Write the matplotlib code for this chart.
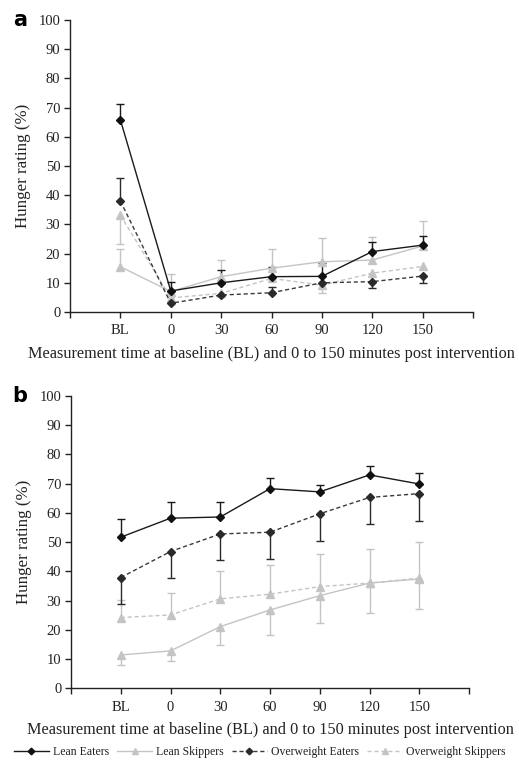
import numpy as np
import matplotlib
matplotlib.use("Agg")
import matplotlib.pyplot as plt
from matplotlib.lines import Line2D

plt.rcParams['font.family'] = ['Liberation Serif', 'DejaVu Serif']

categories = ["BL", "0", "30", "60", "90", "120", "150"]
series_names = ["Lean Eaters", "Lean Skippers", "Overweight Eaters", "Overweight Skippers"]

# Panel a values (%)
lean_eaters_a = [65.8, 7.2, 10.0, 12.1, 12.2, 20.7, 22.9]
lean_eaters_a_lo = [0, 0, 0, 0, 0, 0, 0]
lean_eaters_a_hi = [5.4, 3.2, 4.4, 3.4, 4.5, 3.4, 3.0]
lean_skippers_a = [15.5, 7.0, 12.1, 15.0, 17.2, 17.8, 22.6]
lean_skippers_a_lo = [0, 0, 0, 0, 0, 0, 0]
lean_skippers_a_hi = [6.1, 5.9, 5.7, 6.6, 8.0, 7.8, 8.4]
ow_eaters_a = [38.0, 3.0, 5.8, 6.6, 10.0, 10.4, 12.3]
ow_eaters_a_lo = [0, 0, 0, 0, 0, 2.3, 2.4]
ow_eaters_a_hi = [8.0, 0, 0, 2.1, 0, 0, 0]
ow_skippers_a = [33.2, 4.8, 6.4, 11.5, 9.2, 13.3, 15.6]
ow_skippers_a_lo = [10.0, 0, 0, 0, 2.8, 0, 0]
ow_skippers_a_hi = [0, 0, 0, 0, 0, 0, 0]

# Panel b values (%)
lean_eaters_b = [51.7, 58.2, 58.6, 68.3, 67.2, 73.0, 69.9]
lean_eaters_b_lo = [0, 0, 0, 0, 0, 0, 0]
lean_eaters_b_hi = [6.3, 5.4, 5.0, 3.6, 2.4, 3.2, 3.9]
lean_skippers_b = [11.4, 12.8, 21.1, 26.8, 31.7, 36.0, 37.4]
lean_skippers_b_lo = [3.4, 3.3, 6.3, 8.5, 9.5, 10.3, 10.4]
lean_skippers_b_hi = [0, 0, 0, 0, 0, 0, 0]
ow_eaters_b = [37.9, 46.8, 52.8, 53.4, 59.7, 65.3, 66.6]
ow_eaters_b_lo = [9.0, 8.9, 8.9, 9.1, 9.2, 9.1, 9.2]
ow_eaters_b_hi = [0, 0, 0, 0, 0, 0, 0]
ow_skippers_b = [24.2, 25.1, 30.6, 32.2, 34.8, 36.0, 37.7]
ow_skippers_b_lo = [0, 0, 0, 0, 0, 0, 0]
ow_skippers_b_hi = [6.0, 7.6, 9.7, 10.0, 11.1, 11.6, 12.5]

styles = {
    "Lean Eaters": dict(color="#1a1a1a", ls="-", marker="D", ms=4.5, mfc="#111111", mec="#111111", ecolor="#1a1a1a"),
    "Lean Skippers": dict(color="#c4c4c4", ls="-", marker="^", ms=6, mfc="#c4c4c4", mec="#c4c4c4", ecolor="#c4c4c4"),
    "Overweight Eaters": dict(color="#3a3a3a", ls=(0, (3, 2)), marker="D", ms=4.5, mfc="#2a2a2a", mec="#2a2a2a", ecolor="#2a2a2a"),
    "Overweight Skippers": dict(color="#c4c4c4", ls=(0, (3, 2)), marker="^", ms=6, mfc="#c4c4c4", mec="#c4c4c4", ecolor="#c4c4c4"),
}

panel_a = {
    "Lean Eaters": (lean_eaters_a, lean_eaters_a_lo, lean_eaters_a_hi),
    "Lean Skippers": (lean_skippers_a, lean_skippers_a_lo, lean_skippers_a_hi),
    "Overweight Eaters": (ow_eaters_a, ow_eaters_a_lo, ow_eaters_a_hi),
    "Overweight Skippers": (ow_skippers_a, ow_skippers_a_lo, ow_skippers_a_hi),
}
panel_b = {
    "Lean Eaters": (lean_eaters_b, lean_eaters_b_lo, lean_eaters_b_hi),
    "Lean Skippers": (lean_skippers_b, lean_skippers_b_lo, lean_skippers_b_hi),
    "Overweight Eaters": (ow_eaters_b, ow_eaters_b_lo, ow_eaters_b_hi),
    "Overweight Skippers": (ow_skippers_b, ow_skippers_b_lo, ow_skippers_b_hi),
}

fig = plt.figure(figsize=(5.19, 7.65), dpi=100)
ax_a = fig.add_axes([70/519, 1 - 312/765, 403/519, 292/765])
ax_b = fig.add_axes([71/519, 1 - 688.3/765, 398/519, 292.3/765])

x = np.arange(1, len(categories) + 1)
xlabel = "Measurement time at baseline (BL) and 0 to 150 minutes post intervention"


def draw(ax, data, order):
    for name in order:
        vals, lo, hi = data[name]
        st = styles[name]
        vals = np.array(vals, float)
        lo = np.array(lo, float)
        hi = np.array(hi, float)
        eb = ax.errorbar(x, vals, yerr=[lo, hi], fmt="none", ecolor=st["ecolor"],
                         elinewidth=1.0, capsize=2.6, capthick=1.0, zorder=2)
        for cl in eb[1]:
            yd = np.array(cl.get_ydata(), float)
            yd[np.isclose(yd, vals)] = np.nan
            cl.set_ydata(yd)
        ax.plot(x, vals, color=st["color"], ls=st["ls"], lw=1.0, marker=st["marker"],
                ms=st["ms"], mfc=st["mfc"], mec=st["mec"], zorder=3)
    ax.set_xlim(0, 8)
    ax.set_ylim(0, 100)
    ax.set_xticks(np.arange(0, 9))
    ax.set_xticklabels([""] + categories + [""])
    ax.set_yticks(np.arange(0, 101, 10))
    ax.spines["top"].set_visible(False)
    ax.spines["right"].set_visible(False)
    for s in ("left", "bottom"):
        ax.spines[s].set_linewidth(1.0)
        ax.spines[s].set_color("#222222")
    ax.tick_params(direction="out", length=4, width=1.0, colors="#222222", labelsize=10.5, pad=3)
    ax.tick_params(axis="x", pad=5)
    ax.set_ylabel("Hunger rating (%)", fontsize=12.2, color="#222222", labelpad=5)
    ax.set_xlabel(xlabel, fontsize=11.7, color="#222222", labelpad=6)


order = ["Overweight Skippers", "Lean Skippers", "Overweight Eaters", "Lean Eaters"]
draw(ax_a, panel_a, order)
draw(ax_b, panel_b, order)

fig.text(20/519, 1 - 20/765, "a", fontsize=15, fontweight="bold", family="DejaVu Sans",
         ha="center", va="center")
fig.text(20/519, 1 - 396/765, "b", fontsize=15, fontweight="bold", family="DejaVu Sans",
         ha="center", va="center")

handles = []
for name in series_names:
    st = styles[name]
    handles.append(Line2D([], [], color=st["color"], ls=st["ls"], lw=1.0, marker=st["marker"],
                          ms=st["ms"] * 0.75, mfc=st["mfc"], mec=st["mec"]))
fig.legend(handles, series_names, loc="center", bbox_to_anchor=(0.5, 1 - 752/765), ncol=4,
           frameon=False, fontsize=8.5, handlelength=3.0, handletextpad=0.3, columnspacing=0.7,
           labelcolor="#222222", borderpad=0.2)

fig.savefig("out.png", dpi=100)
